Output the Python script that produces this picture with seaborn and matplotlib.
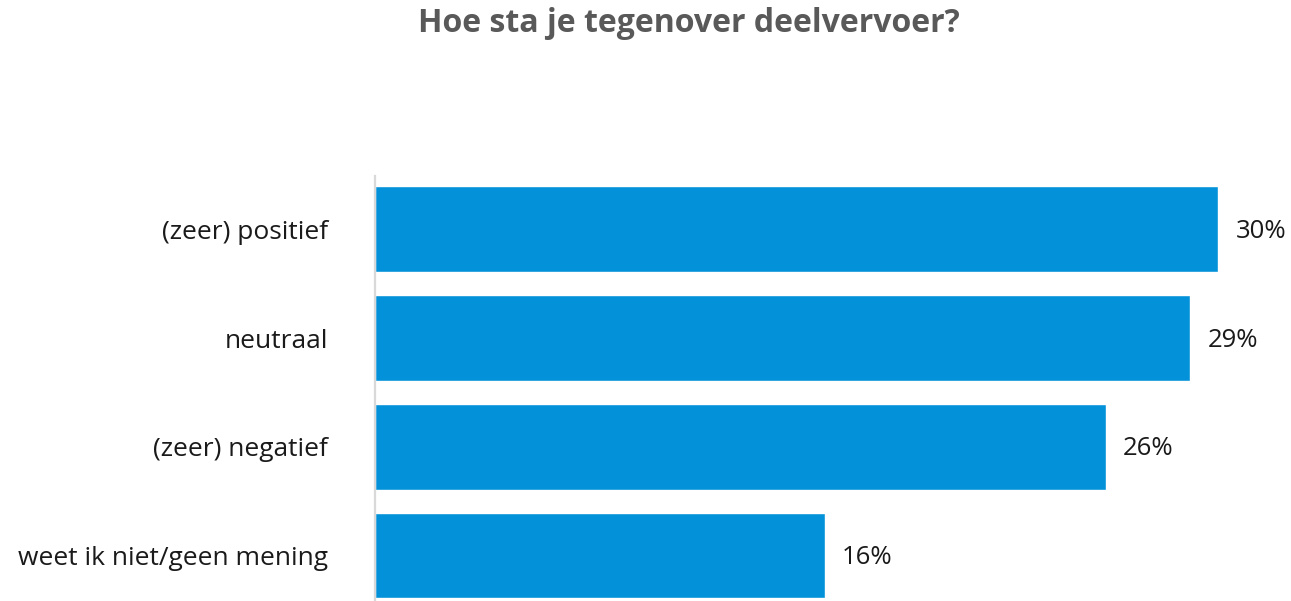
import matplotlib
matplotlib.use("Agg")
import matplotlib.pyplot as plt
import seaborn as sns
import pandas as pd

categories = ["(zeer) positief", "neutraal", "(zeer) negatief", "weet ik niet/geen mening"]
values = [30, 29, 26, 16]
value_labels = ["30%", "29%", "26%", "16%"]
title = "Hoe sta je tegenover deelvervoer?"

sns.set_style("white")
plt.rcParams['font.family'] = ['Open Sans', 'DejaVu Sans']

df = pd.DataFrame({"cat": categories, "val": values})

W, H = 1291, 601
fig = plt.figure(figsize=(W / 100, H / 100), dpi=100)
ax_left = 375 / W
ax_top = 176
ax = fig.add_axes([ax_left, 0, 1 - ax_left, (H - ax_top) / H])

sns.barplot(data=df, x="val", y="cat", orient="h", color="#0391d9",
            saturation=1, width=0.79, ax=ax)

scale = 28.1
ax.set_xlim(0, (W - 375) / scale)
ax.set_ylim(3 + (601 - 555.5) / 108.67, -0.49)

for i, (v, lab) in enumerate(zip(values, value_labels)):
    ax.annotate(lab, xy=(v, i), xytext=(12.5, -1.5), textcoords="offset points",
                va="center", ha="left", fontsize=18.5, color="#1a1a1a")

ax.set_xlabel("")
ax.set_ylabel("")
ax.set_xticks([])
ax.tick_params(axis="y", length=0, pad=34, labelsize=19, labelcolor="#1a1a1a")
for s in ["top", "right", "bottom"]:
    ax.spines[s].set_visible(False)
ax.spines["left"].set_color("#d9d9d9")
ax.spines["left"].set_linewidth(1.6)

fig.text(689 / W, 1 - 24 / H, title, ha="center", va="center",
         fontsize=23, fontweight="bold", color="#595959")

fig.savefig("out.png", dpi=100)
